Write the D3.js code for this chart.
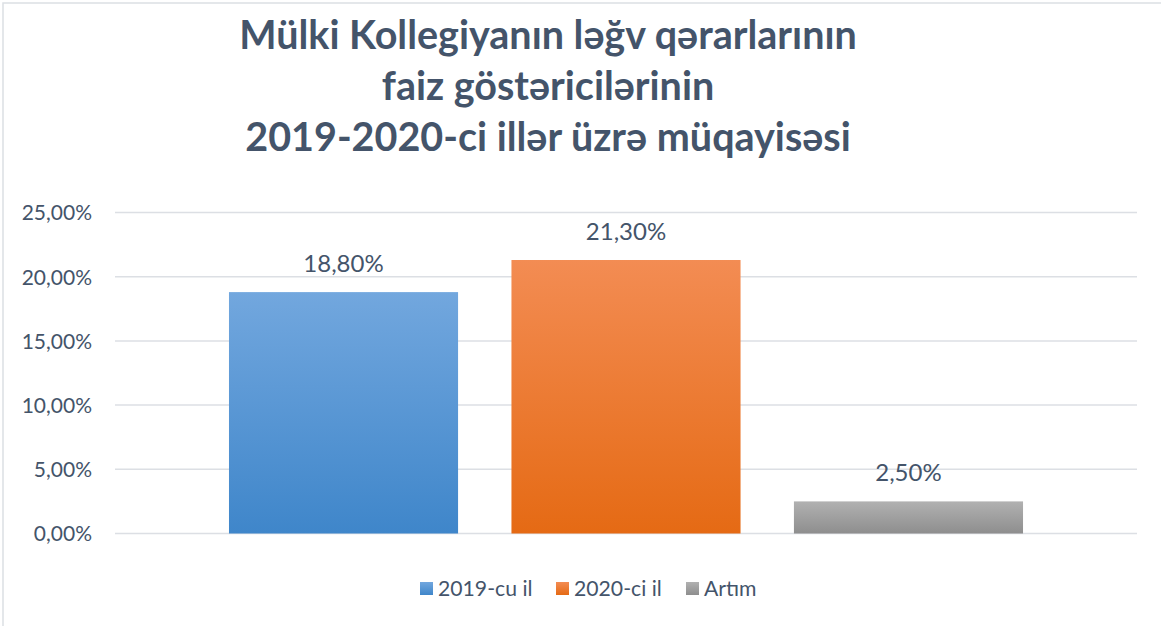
<!DOCTYPE html>
<html>
<head>
<meta charset="utf-8">
<script src="https://cdn.jsdelivr.net/npm/d3@7"></script>
<style>
  body { margin: 0; background: #fff; }
  svg text { font-family: Lato, "Noto Sans", sans-serif; }
</style>
</head>
<body>
<div id="chart"></div>
<script>
// Data
const titleLines = ["Mülki Kollegiyanın ləğv qərarlarının", "faiz göstəricilərinin", "2019-2020-ci illər üzrə müqayisəsi"];
const seriesNames = ["2019-cu il", "2020-ci il", "Artım"];
const values = [0.188, 0.213, 0.025];
const yTicks = [0, 0.05, 0.10, 0.15, 0.20, 0.25];

const textColor = "#44546A";
const gradients = [
    {top: "#72A7DE", bottom: "#3F86CA"},
    {top: "#F38C53", bottom: "#E56A14"},
    {top: "#B1B1B1", bottom: "#8E8E8E"}
];

const W = 1161, H = 626;
const margin = {top: 212.5, right: 24, bottom: 92.5, left: 115};
const width = W - margin.left - margin.right,
      height = H - margin.top - margin.bottom;

const svgRoot = d3.select("#chart")
    .append("svg")
    .attr("width", W)
    .attr("height", H);

// chart border (only top and left visible in the picture)
svgRoot.append("rect")
    .attr("x", 3).attr("y", 3)
    .attr("width", W + 10).attr("height", H + 10)
    .attr("fill", "#fff")
    .attr("stroke", "#DCDFE4")
    .attr("stroke-width", 1.5);

// gradients
const defs = svgRoot.append("defs");
gradients.forEach((g, i) => {
    const lg = defs.append("linearGradient")
        .attr("id", "grad" + i)
        .attr("x1", 0).attr("y1", 0).attr("x2", 0).attr("y2", 1);
    lg.append("stop").attr("offset", "0%").attr("stop-color", g.top);
    lg.append("stop").attr("offset", "100%").attr("stop-color", g.bottom);
});

// title
svgRoot.append("g").selectAll("text")
    .data(titleLines)
    .enter()
    .append("text")
    .attr("x", 548)
    .attr("y", (d, i) => 49 + i * 51)
    .attr("text-anchor", "middle")
    .attr("font-size", 39.5)
    .attr("font-weight", "bold")
    .attr("fill", textColor)
    .text(d => d);

const svg = svgRoot.append("g")
    .attr("transform", `translate(${margin.left},${margin.top})`);

// scales
const x = d3.scaleBand()
    .domain(seriesNames)
    .range([0, width])
    .paddingInner(0.189)
    .paddingOuter(0.4035);

const y = d3.scaleLinear()
    .domain([0, 0.25])
    .range([height, 0]);

const fmt = v => d3.format(".2f")(v * 100).replace(".", ",") + "%";

// gridlines
svg.selectAll(".grid")
    .data(yTicks)
    .enter()
    .append("line")
    .attr("x1", 0).attr("x2", width)
    .attr("y1", d => y(d)).attr("y2", d => y(d))
    .attr("stroke", "#DCDFE4")
    .attr("stroke-width", 1.5);

// y axis labels
const yAxis = svg.append("g")
    .call(d3.axisLeft(y).tickValues(yTicks).tickSize(0).tickPadding(23).tickFormat(fmt));
yAxis.select(".domain").remove();
yAxis.selectAll("text")
    .attr("font-size", 21)
    .attr("fill", textColor)
    .attr("dy", "0.35em")
    .style("font-family", "Lato, 'Noto Sans', sans-serif");

// bars
svg.selectAll(".bar")
    .data(values)
    .enter()
    .append("rect")
    .attr("x", (d, i) => x(seriesNames[i]))
    .attr("y", d => y(d))
    .attr("width", x.bandwidth())
    .attr("height", d => height - y(d))
    .attr("fill", (d, i) => `url(#grad${i})`);

// value labels
svg.selectAll(".label")
    .data(values)
    .enter()
    .append("text")
    .attr("x", (d, i) => x(seriesNames[i]) + x.bandwidth() / 2)
    .attr("y", d => y(d) - 20)
    .attr("text-anchor", "middle")
    .attr("font-size", 24)
    .attr("fill", textColor)
    .text(d => fmt(d));

// legend
const legendX = [420, 556, 686];
const legend = svgRoot.append("g");
seriesNames.forEach((name, i) => {
    legend.append("rect")
        .attr("x", legendX[i]).attr("y", 582)
        .attr("width", 13).attr("height", 13)
        .attr("fill", `url(#grad${i})`);
    legend.append("text")
        .attr("x", legendX[i] + 18).attr("y", 596)
        .attr("font-size", 21.2)
        .attr("fill", textColor)
        .text(name);
});
</script>
</body>
</html>
